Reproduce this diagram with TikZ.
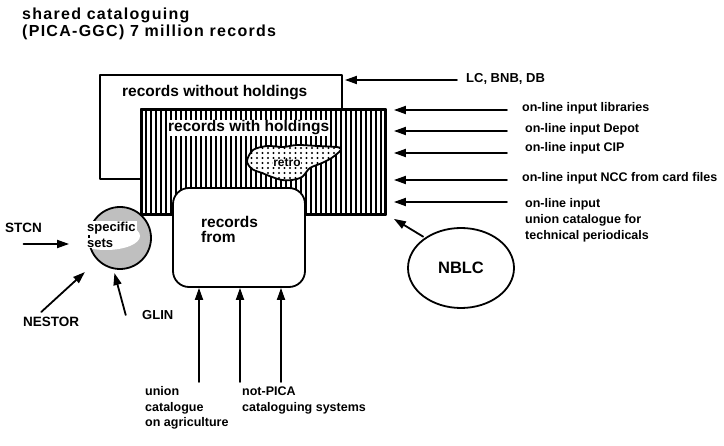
\documentclass[tikz,border=0pt]{standalone}
\usepackage{fontspec}
\setmainfont{Liberation Sans}
\usetikzlibrary{arrows.meta,shapes.geometric}

\begin{document}
\begin{tikzpicture}[x=1pt,y=-1pt,line cap=round,line join=round,
  feed/.style={-{Triangle[length=12pt,width=8pt]},line width=1.8pt},
  boxline/.style={draw,line width=1.8pt,inner sep=0pt},
  heading/.style={font=\bfseries\fontsize{16}{18}\selectfont\addfontfeature{LetterSpace=8},inner sep=0pt,anchor=west},
  src/.style={font=\bfseries\fontsize{12.5}{15.5}\selectfont,inner sep=0pt,anchor=west,align=left},
  boxtxt/.style={font=\bfseries\fontsize{15.5}{15}\selectfont,inner sep=0pt,anchor=west,align=left}]
  % the PICA shared cataloguing file and what feeds it, in pixel units of the scan
  \useasboundingbox (0,0) rectangle (724,446);
  \def\retroblob{plot[smooth cycle] coordinates {(247,161) (253,150) (267,146) (283,147) (297,145) (317,146) (341,148) (333,157) (322,163) (310,168) (302,177) (292,180) (282,180) (272,177) (262,173) (252,169)}}

  \node[heading] (ttlA) at (22,15) {shared cataloguing};
  \node[heading] (ttlB) at (22,32) {(PICA-GGC) 7 million records};

  \node[boxline,minimum width=242pt,minimum height=104pt] (nohold) at (221,127) {};
  \node[boxtxt] (noholdtxt) at (122,93) {records without holdings};

  \node[boxline,fill=white,minimum width=243pt,minimum height=104pt] (hold) at (263.5,162) {};
  \foreach \hx in {146,151,...,383} \draw[line width=2pt,line cap=butt] (\hx,110) -- (\hx,214);
  \draw[line width=1.8pt] (hold.north west) rectangle (hold.south east);
  \node[boxtxt,fill=white,inner sep=1pt] (holdtxt) at (167,128) {records with holdings};

  \fill[white] \retroblob;
  \begin{scope}
    \clip \retroblob;
    \foreach \dx in {246,251.5,...,346} \foreach \dy in {143,148,...,183} \fill (\dx,\dy) circle (1.1pt);
  \end{scope}
  \draw[line width=1.8pt] \retroblob;
  \node[font=\bfseries\fontsize{12}{14}\selectfont,fill=white,inner sep=0.5pt] (retrotxt) at (287,163) {retro};

  \node[boxline,fill=white,rounded corners=16pt,minimum width=132pt,minimum height=99pt] (recfrom) at (239,237.5) {};
  \node[boxtxt] (recfromtxt) at (201,229.5) {records\\from};

  \node[boxline,circle,fill=black!25,minimum size=62pt] (spec) at (120,238) {};
  \begin{scope}
    \clip (120,238) circle (30pt);
    \fill[white] (106,236) ellipse (34pt and 14pt);
  \end{scope}
  \node[src,font=\bfseries\fontsize{13}{15}\selectfont,fill=white,inner sep=1pt] (spectxtA) at (86,228) {specific};
  \node[src,font=\bfseries\fontsize{13}{15}\selectfont,fill=white,inner sep=1pt] (spectxtB) at (86,243) {sets};

  \node[boxline,ellipse,minimum width=106pt,minimum height=80pt,font=\bfseries\fontsize{16.5}{18}\selectfont] (nblc) at (461,268) {NBLC};

  \node[src,font=\bfseries\fontsize{13.5}{16}\selectfont] (stcn) at (5,228) {STCN};
  \node[src,font=\bfseries\fontsize{13.5}{16}\selectfont] (nestor) at (23,322) {NESTOR};
  \node[src,font=\bfseries\fontsize{13}{16}\selectfont] (glin) at (142,315) {GLIN};

  \node[src] (agri) at (145,408) {union\\catalogue\\on agriculture};
  \node[src] (notpica) at (242,400.5) {not-PICA\\cataloguing systems};

  \node[src,font=\bfseries\fontsize{13}{16}\selectfont] (lc) at (466,79) {LC, BNB, DB};
  \node[src] (lib) at (522,108) {on-line input libraries};
  \node[src] (depot) at (525,129) {on-line input Depot};
  \node[src] (cip) at (525,148) {on-line input CIP};
  \node[src] (ncc) at (522,178) {on-line input NCC from card files};
  \node[src,font=\bfseries\fontsize{12.5}{16}\selectfont] (tecper) at (525,220) {on-line input\\union catalogue for\\technical periodicals};

  \draw[feed] ([xshift=-9pt,yshift=-1pt]lc.west) -- ([xshift=2pt,yshift=-1pt]nohold.east |- lc.west);
  \draw[feed] ([xshift=-15pt,yshift=-2pt]lib.west) -- ([xshift=8pt,yshift=-2pt]hold.east |- lib.west);
  \draw[feed] ([xshift=-18pt,yshift=-2pt]depot.west) -- ([xshift=8pt,yshift=-2pt]hold.east |- depot.west);
  \draw[feed] ([xshift=-18pt,yshift=-5pt]cip.west) -- ([xshift=8pt,yshift=-5pt]hold.east |- cip.west);
  \draw[feed] ([xshift=-15pt,yshift=-2pt]ncc.west) -- ([xshift=8pt,yshift=-2pt]hold.east |- ncc.west);
  \draw[feed] ([xshift=-18pt,yshift=18pt]tecper.west) -- ([xshift=8pt,yshift=18pt]hold.east |- tecper.west);
  \draw[feed,shorten <=2pt] (nblc.140) -- ([shift={(8,4)}]hold.south east);

  \draw[feed,shorten >=19pt] ([yshift=-16pt]stcn.center) -- ([yshift=-6pt]spec.west);
  \draw[feed,shorten >=17pt] ([xshift=-10pt,yshift=5pt]nestor.north) -- (spec.225);
  \draw[feed,shorten >=4pt] ([xshift=-32pt]glin.center) -- (spec.258);

  \foreach \fx/\nm in {199/A,240/B,281/C} {
    \coordinate (feed\nm) at (\fx,382);
    \draw[feed] (feed\nm) -- (feed\nm |- recfrom.south);
  }
\end{tikzpicture}
\end{document}
